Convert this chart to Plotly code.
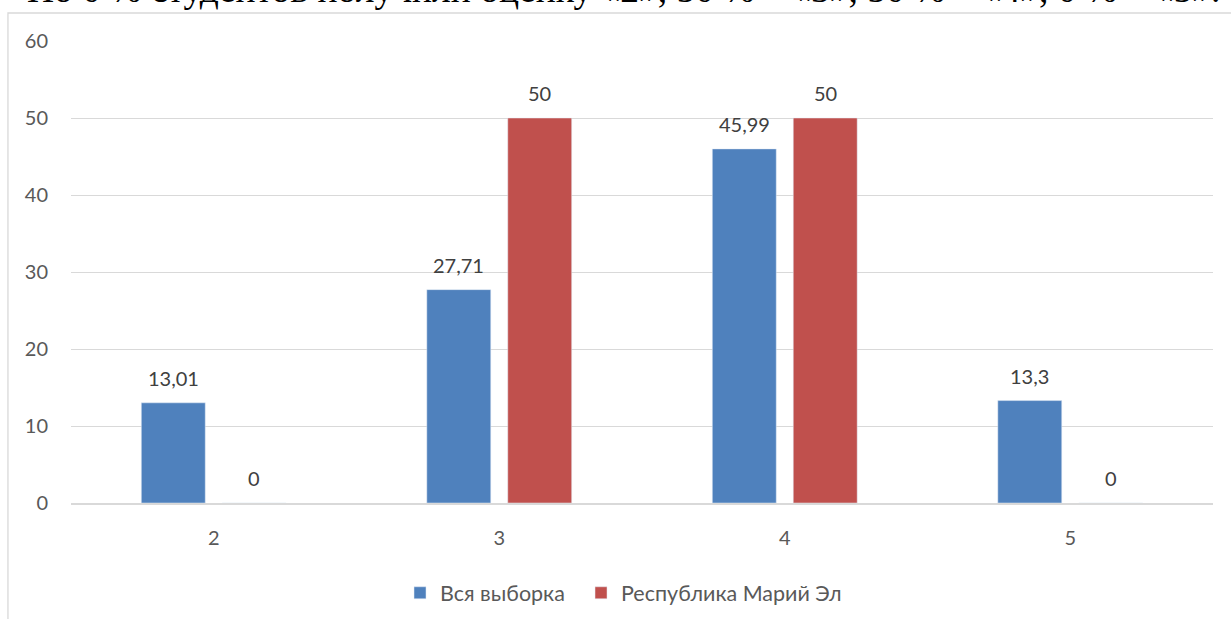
import plotly.graph_objects as go

# данные диаграммы
categories = ["2", "3", "4", "5"]
all_sample = [13.01, 27.71, 45.99, 13.3]
mari_el = [0, 50, 50, 0]
series_names = ["Вся выборка", "Республика Марий Эл"]
y_ticks = [0, 10, 20, 30, 40, 50, 60]
caption = "Но 0 % студентов получили оценку «2», 50 % – «3», 50 % – «4», 0 % – «5»."

def fmt(v):
    return f"{v:g}".replace(".", ",")

fig = go.Figure()
fig.add_trace(go.Bar(x=categories, y=all_sample, name=series_names[0],
                     marker=dict(color="#4F81BD"), legend="legend"))
fig.add_trace(go.Bar(x=categories, y=mari_el, name=series_names[1],
                     marker=dict(color="#C0504D"), legend="legend2"))

# подписи данных над столбцами (x — индекс категории на оси)
for vals, shift in [(all_sample, -40.5), (mari_el, 40.5)]:
    for i, v in enumerate(vals):
        fig.add_annotation(x=i, y=v, text=fmt(v), showarrow=False,
                           xshift=shift, yshift=25, yanchor="middle",
                           font=dict(size=20, color="#404040"))

# рамка области диаграммы
fig.add_shape(type="rect", xref="paper", yref="paper",
              x0=-0.0552, x1=1.03, y0=-0.3, y1=1.0606,
              line=dict(color="#D9D9D9", width=1.3), layer="below")

# обрезанная строка текста документа сверху
fig.add_annotation(text=caption, xref="paper", yref="paper", x=-0.0403, y=1.0628,
                   xanchor="left", yanchor="bottom", showarrow=False,
                   font=dict(family="Liberation Serif, Times New Roman, serif", size=37.5, color="#000"))

legend_style = dict(orientation="h", xanchor="left", y=-0.15, yanchor="top",
                    font=dict(size=21.5, color="#595959"), bgcolor="rgba(0,0,0,0)")

fig.update_layout(
    width=1231, height=619,
    margin=dict(l=71, r=18, t=41, b=116, autoexpand=False),
    paper_bgcolor="white", plot_bgcolor="white",
    barmode="group", bargap=0.433, bargroupgap=0.21,
    font=dict(family="Lato, Liberation Sans, sans-serif", size=20, color="#595959"),
    xaxis=dict(type="category", range=[-0.5, 3.5], showgrid=False, ticks="", ticklabelstandoff=16,
               showline=True, linecolor="#D9D9D9", linewidth=2),
    yaxis=dict(range=[0, 60], tickvals=y_ticks, gridcolor="#D9D9D9", gridwidth=1.3,
               zeroline=False, ticks="", ticklabelstandoff=22),
    legend=dict(x=0.2881, **legend_style),
    legend2=dict(x=0.4466, **legend_style),
    showlegend=True,
)

# убираем стандартный отступ body, чтобы рисунок занял окно с (0, 0)
fig.write_html("out.html", config={"displayModeBar": False},
               post_script="document.body.style.margin='0';document.body.style.overflow='hidden';")
